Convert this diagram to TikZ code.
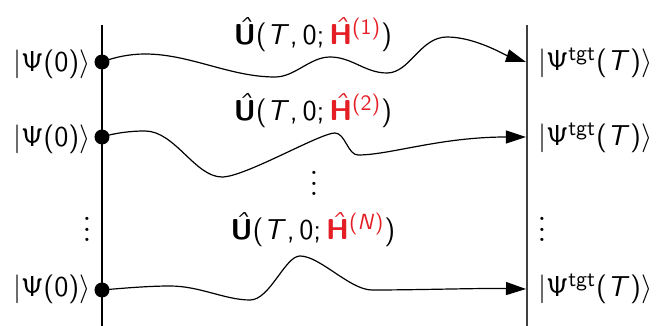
\documentclass[tikz,border=0pt]{standalone}
\usepackage{amsmath}
\renewcommand{\sfdefault}{cmss}
\usepackage{sansmath}
\usetikzlibrary{arrows.meta}
\definecolor{hred}{RGB}{228,30,37}
\AtBeginDocument{\sansmath}
\newcommand{\Psiup}{\mathsf{\Psi}}
\begin{document}
\begin{tikzpicture}[x=0.5pt,y=-0.5pt,
  lbl/.style={font=\sansmath\fontsize{15}{18}\selectfont, inner sep=0pt},
  dotnode/.style={circle, fill=black, inner sep=0pt, minimum size=7.5pt},
  axis/.style={line width=0.6pt},
  path/.style={line width=0.6pt, -{Triangle[length=10pt,width=6.5pt]}},
  vd/.style={lbl, scale=1.3}]
\useasboundingbox (0,0) rectangle (661,326);
% vertical lines
\coordinate (L1) at (102,25); \coordinate (L2) at (102,326);
\coordinate (R1) at (527,25); \coordinate (R2) at (527,326);
\draw[axis] (L1) -- (L2);
\draw[axis, black!75] (R1) -- (R2);
% start dots
\node[dotnode] (a1) at (102,62) {};
\node[dotnode] (a2) at (102,137) {};
\node[dotnode] (a3) at (102,290) {};
% end points
\coordinate (b1) at (526,62);
\coordinate (b2) at (526,137);
\coordinate (b3) at (526,289);
% left labels
\node[lbl, anchor=base east] (l1) at (91,71.5) {$|\Psiup(0)\rangle$};
\node[lbl, anchor=base east] (l2) at (91,147) {$|\Psiup(0)\rangle$};
\node[lbl, anchor=base east] (l3) at (91,297) {$|\Psiup(0)\rangle$};
% right labels
\node[lbl, anchor=base west] (r1) at (538,71) {$|\Psiup^{\mathsf{tgt}}(T)\rangle$};
\node[lbl, anchor=base west] (r2) at (538,146) {$|\Psiup^{\mathsf{tgt}}(T)\rangle$};
\node[lbl, anchor=base west] (r3) at (538,297) {$|\Psiup^{\mathsf{tgt}}(T)\rangle$};
% titles
\node[lbl, anchor=base] (t1) at (313,45) {$\hat{\mathbf{U}}(T,0;{\color{hred}\hat{\mathbf{H}}^{(1)}})$};
\node[lbl, anchor=base] (t2) at (313,121) {$\hat{\mathbf{U}}(T,0;{\color{hred}\hat{\mathbf{H}}^{(2)}})$};
\node[lbl, anchor=base] (t3) at (313,240) {$\hat{\mathbf{U}}(T,0;{\color{hred}\hat{\mathbf{H}}^{(N)}})$};
% vdots
\node[vd] (d1) at (87,222) {$\vdots$};
\node[vd] (d2) at (314,176) {$\vdots$};
\node[vd] (d3) at (542,222) {$\vdots$};
% curves
\draw[path] (a1.center) .. controls (115,57) and (130,54) .. (145,54)
  .. controls (190,54) and (230,77) .. (275,77)
  .. controls (295,77) and (310,57) .. (330,57)
  .. controls (352,57) and (365,73) .. (387,73)
  .. controls (410,73) and (420,37) .. (447,37)
  .. controls (475,37) and (505,55) .. (b1);
\draw[path] (a2.center) .. controls (115,133) and (130,131) .. (145,131)
  .. controls (175,131) and (195,177) .. (222,177)
  .. controls (245,177) and (320,133) .. (335,133)
  .. controls (345,133) and (348,155) .. (358,155)
  .. controls (390,155) and (440,137) .. (b2);
\draw[path] (a3.center) .. controls (125,288) and (150,286) .. (170,286)
  .. controls (200,286) and (225,300) .. (250,300)
  .. controls (270,300) and (285,256) .. (300,256)
  .. controls (320,256) and (350,290) .. (372,290)
  .. controls (420,290) and (480,288) .. (b3);
\end{tikzpicture}
\end{document}
